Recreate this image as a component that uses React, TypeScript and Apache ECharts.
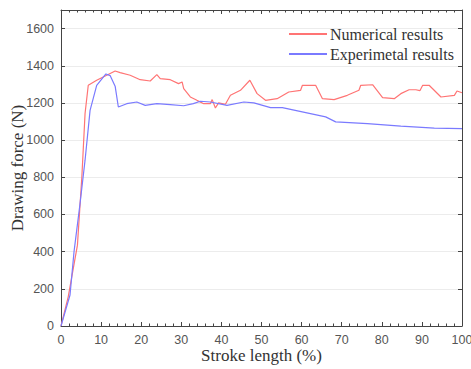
import React, { useEffect, useRef } from "react";
import * as echarts from "echarts";

const numX = [0, 1.8, 4.1, 5.2, 6.0, 6.8, 8.9, 11.4, 13.5, 14.75, 17.25, 19.75, 22.25, 23.9, 24.75, 27.25, 29.3, 30.2, 30.6, 32.25, 33.9, 35.6, 37.25, 37.7, 38.5, 39.3, 41, 42.25, 44.75, 47.1, 48.9, 51, 53.9, 56.8, 59.75, 60.2, 63.5, 65.2, 68.1, 71.4, 74.3, 74.75, 77.7, 80.2, 83.1, 84.75, 86.8, 88.5, 89.5, 90.2, 91.8, 94.75, 98.1, 98.75, 100];
const numY = [0, 157, 435, 802, 1143, 1295, 1322, 1349, 1372, 1363, 1349, 1325, 1318, 1352, 1331, 1325, 1304, 1313, 1277, 1232, 1214, 1196, 1196, 1218, 1173, 1200, 1193, 1241, 1268, 1322, 1250, 1214, 1223, 1259, 1268, 1295, 1295, 1223, 1218, 1241, 1268, 1295, 1298, 1229, 1223, 1250, 1271, 1271, 1266, 1295, 1295, 1232, 1241, 1264, 1255];

const expX = [0, 2.25, 3.25, 4.75, 6.0, 7.25, 8.9, 10.6, 11.2, 12.25, 13.5, 14.3, 16.4, 18.9, 21, 23.9, 27.25, 30.6, 33, 34.75, 37.25, 41.4, 45.6, 48.1, 52.25, 55.2, 66, 68.5, 76.4, 84.75, 93.1, 100];
const expY = [0, 167, 400, 659, 892, 1160, 1295, 1340, 1356, 1347, 1290, 1178, 1196, 1205, 1187, 1196, 1191, 1185, 1196, 1209, 1205, 1187, 1205, 1200, 1175, 1175, 1125, 1098, 1089, 1075, 1065, 1062];

const seriesNames = ["Numerical results", "Experimetal results"];

export default function App() {
  const ref = useRef<HTMLDivElement>(null);
  useEffect(() => {
    if (!ref.current) return;
    const chart = echarts.init(ref.current, null, { renderer: "svg" });
    const axisLine = { show: true, onZero: false, lineStyle: { color: "#444", width: 1 } };
    const tickInside = { show: true, inside: true, length: 4, lineStyle: { color: "#444" } };
    const minorInside = { show: true, splitNumber: 5, length: 2.5, lineStyle: { color: "#444" } };
    const yFmt = (v: number) => (v === 1700 ? "" : String(v));
    chart.setOption({
      animation: false,
      backgroundColor: "#fff",
      grid: { left: 61, right: 9, top: 10, bottom: 43, containLabel: false, outerBoundsMode: "none" },
      legend: {
        orient: "vertical",
        left: 284,
        top: 21,
        itemGap: 4,
        itemWidth: 38,
        itemHeight: 2,
        icon: "rect",
        textStyle: { fontFamily: "Liberation Serif", fontSize: 16, color: "#333", padding: [0, 0, 0, -2] },
        data: seriesNames,
      },
      xAxis: [
        {
          type: "value",
          min: 0,
          max: 100,
          interval: 10,
          position: "bottom",
          name: "Stroke length (%)",
          nameLocation: "middle",
          nameGap: 21,
          nameMoveOverlap: false,
          nameTextStyle: { fontFamily: "Liberation Serif", fontSize: 17, color: "#333" },
          axisLine,
          axisTick: tickInside,
          minorTick: minorInside,
          axisLabel: { fontFamily: "Liberation Sans", fontSize: 12.5, color: "#555", margin: 7, formatter: (v: number) => String(v) },
          splitLine: { show: false },
        },
        {
          type: "value",
          min: 0,
          max: 100,
          interval: 10,
          position: "top",
          axisLine,
          axisTick: tickInside,
          minorTick: minorInside,
          axisLabel: { show: false },
          splitLine: { show: false },
        },
      ],
      yAxis: [
        {
          type: "value",
          min: 0,
          max: 1700,
          interval: 200,
          position: "left",
          name: "Drawing force (N)",
          nameLocation: "middle",
          nameGap: 35,
          nameMoveOverlap: false,
          nameTextStyle: { fontFamily: "Liberation Serif", fontSize: 17, color: "#333" },
          axisLine,
          axisTick: tickInside,
          axisLabel: { fontFamily: "Liberation Sans", fontSize: 12.5, color: "#555", margin: 7, formatter: yFmt },
          splitLine: { show: true, lineStyle: { color: "#ececec", width: 1 } },
        },
        {
          type: "value",
          min: 0,
          max: 1700,
          interval: 200,
          position: "right",
          axisLine,
          axisTick: tickInside,
          axisLabel: { show: false },
          splitLine: { show: false },
        },
      ],
      series: [
        {
          name: seriesNames[0],
          type: "line",
          showSymbol: false,
          symbol: "none",
          data: numX.map((x, i) => [x, numY[i]]),
          lineStyle: { color: "#ff7474", width: 1.2 },
          itemStyle: { color: "#ff7474" },
        },
        {
          name: seriesNames[1],
          type: "line",
          showSymbol: false,
          symbol: "none",
          data: expX.map((x, i) => [x, expY[i]]),
          lineStyle: { color: "#7a7aff", width: 1.2 },
          itemStyle: { color: "#7a7aff" },
        },
      ],
    });
    return () => chart.dispose();
  }, []);
  return <div ref={ref} style={{ position: "fixed", left: 0, top: 0, width: 471, height: 369 }} />;
}
